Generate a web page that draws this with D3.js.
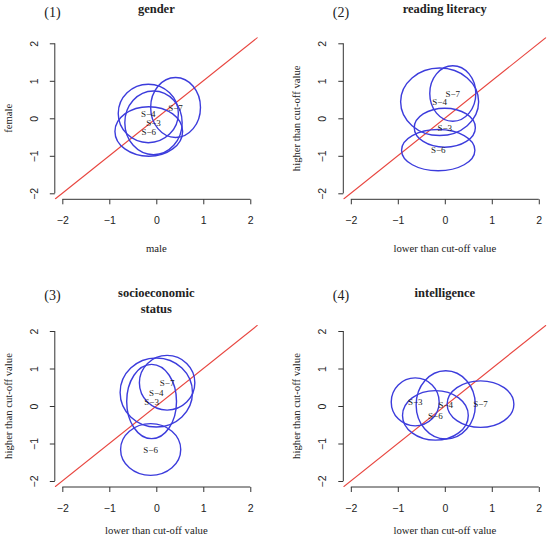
<!DOCTYPE html>
<html>
<head>
<meta charset="utf-8">
<script src="https://cdn.jsdelivr.net/npm/d3@7"></script>
<style>
  body { margin: 0; background: #fff; }
  svg { font-family: "Liberation Serif", "Times New Roman", serif; }
  .axis path, .axis line { stroke: #333; }
  .axis text { fill: #222; font-size: 10.5px; }
</style>
</head>
<body>
<svg id="chart"></svg>
<script>
// panel texts
const tags = ['(1)', '(2)', '(3)', '(4)'];
const titles = [['gender'], ['reading literacy'], ['socioeconomic', 'status'], ['intelligence']];
const xTitles = ['male', 'lower than cut-off value', 'lower than cut-off value', 'lower than cut-off value'];
const yTitles = ['female', 'higher than cut-off value', 'higher than cut-off value', 'higher than cut-off value'];
const ticks = [-2, -1, 0, 1, 2];

// schools, same order in every panel
const schools = ['S\u22123', 'S\u22124', 'S\u22126', 'S\u22127'];

// ellipse centres and half-axes
const genderX = [-0.06, -0.17, -0.16, 0.41];
const genderY = [-0.12, 0.13, -0.35, 0.29];
const genderRx = [0.61, 0.64, 0.72, 0.53];
const genderRy = [0.85, 0.78, 0.66, 0.80];

const readingX = [0.00, -0.11, -0.14, 0.17];
const readingY = [-0.25, 0.44, -0.85, 0.66];
const readingRx = [0.65, 0.83, 0.78, 0.49];
const readingRy = [0.52, 0.90, 0.55, 0.74];

const sesX = [-0.10, 0.00, -0.12, 0.23];
const sesY = [0.12, 0.36, -1.16, 0.62];
const sesRx = [0.53, 0.77, 0.64, 0.59];
const sesRy = [0.99, 0.92, 0.69, 0.73];

const iqX = [-0.63, 0.02, -0.20, 0.76];
const iqY = [0.11, 0.03, -0.25, 0.05];
const iqRx = [0.51, 0.63, 0.70, 0.71];
const iqRy = [0.64, 0.91, 0.66, 0.62];

const panels = [
  [genderX, genderY, genderRx, genderRy],
  [readingX, readingY, readingRx, readingRy],
  [sesX, sesY, sesRx, sesRy],
  [iqX, iqY, iqRx, iqRy]
];

let w = 550, h = 537;
let svg = d3.select('#chart').attr('width', w).attr('height', h);

// plot regions (R style: usr = lim +- 4%)
let lefts = [54.8, 343.3];
let rows = [{ top: 37.3, bottom: 199.3, tag: 16.5, title: [12.5], xt: 53 },
            { top: 325, bottom: 487, tag: 299.5, title: [297, 313], xt: 46.5 }];
let lim = 2.16;
let fmt = d3.format('d');

panels.forEach((p, i) => {
  let col = i % 2, row = rows[Math.floor(i / 2)];
  let left = lefts[col], right = left + 203;

  let x = d3.scaleLinear().domain([-lim, lim]).range([left, right]);
  let y = d3.scaleLinear().domain([-lim, lim]).range([row.bottom, row.top]);

  let g = svg.append('g');

  // x axis
  let xAxis = d3.axisBottom(x).tickValues(ticks).tickFormat(fmt).tickSizeOuter(0).tickSize(5);
  let $x = g.append('g')
    .attr('class', 'axis')
    .attr('transform', `translate(0, ${row.bottom})`)
    .call(xAxis);
  $x.select('.domain').attr('d', `M${x(-2)},0H${x(2)}`);
  $x.selectAll('text').attr('y', 25).attr('dy', null);

  // y axis, labels turned like R's las = 0
  let yAxis = d3.axisLeft(y).tickValues(ticks).tickFormat(fmt).tickSizeOuter(0).tickSize(5);
  let $y = g.append('g')
    .attr('class', 'axis')
    .attr('transform', `translate(${left}, 0)`)
    .call(yAxis);
  $y.select('.domain').attr('d', `M0,${y(-2)}V${y(2)}`);
  $y.selectAll('text')
    .attr('x', null).attr('dy', null)
    .attr('text-anchor', 'middle')
    .attr('transform', 'translate(-17, 0) rotate(-90)');

  // clip for the diagonal
  g.append('clipPath').attr('id', 'clip' + i)
    .append('rect')
    .attr('x', left).attr('y', row.top)
    .attr('width', right - left).attr('height', row.bottom - row.top);

  g.append('line')
    .attr('clip-path', `url(#clip${i})`)
    .attr('x1', x(-lim)).attr('y1', y(-lim))
    .attr('x2', x(lim)).attr('y2', y(lim))
    .attr('stroke', '#e8453f')
    .attr('stroke-width', 1.1);

  // ellipses
  g.selectAll('ellipse')
    .data(schools)
    .enter()
    .append('ellipse')
    .attr('cx', (d, k) => x(p[0][k]))
    .attr('cy', (d, k) => y(p[1][k]))
    .attr('rx', (d, k) => x(p[2][k]) - x(0))
    .attr('ry', (d, k) => y(0) - y(p[3][k]))
    .attr('fill', 'none')
    .attr('stroke', '#3c3cdc')
    .attr('stroke-width', 1.4);

  g.selectAll('.lab')
    .data(schools)
    .enter()
    .append('text')
    .attr('class', 'lab')
    .attr('x', (d, k) => x(p[0][k]))
    .attr('y', (d, k) => y(p[1][k]))
    .attr('dy', '0.35em')
    .attr('text-anchor', 'middle')
    .attr('font-size', 9)
    .attr('fill', '#222')
    .text(d => d);

  // titles
  g.append('text')
    .attr('x', left - 10.5)
    .attr('y', row.tag)
    .attr('font-size', 14)
    .attr('fill', '#222')
    .text(tags[i]);

  titles[i].forEach((t, k) => {
    g.append('text')
      .attr('x', x(0))
      .attr('y', row.title[k])
      .attr('text-anchor', 'middle')
      .attr('font-size', 12.5)
      .attr('font-weight', 'bold')
      .attr('fill', '#222')
      .text(t);
  });

  g.append('text')
    .attr('x', x(0))
    .attr('y', row.bottom + row.xt)
    .attr('text-anchor', 'middle')
    .attr('font-size', 10.7)
    .attr('fill', '#222')
    .text(xTitles[i]);

  g.append('text')
    .attr('transform', `translate(${left - 43}, ${y(0)}) rotate(-90)`)
    .attr('text-anchor', 'middle')
    .attr('font-size', 10.7)
    .attr('fill', '#222')
    .text(yTitles[i]);
});
</script>
</body>
</html>
